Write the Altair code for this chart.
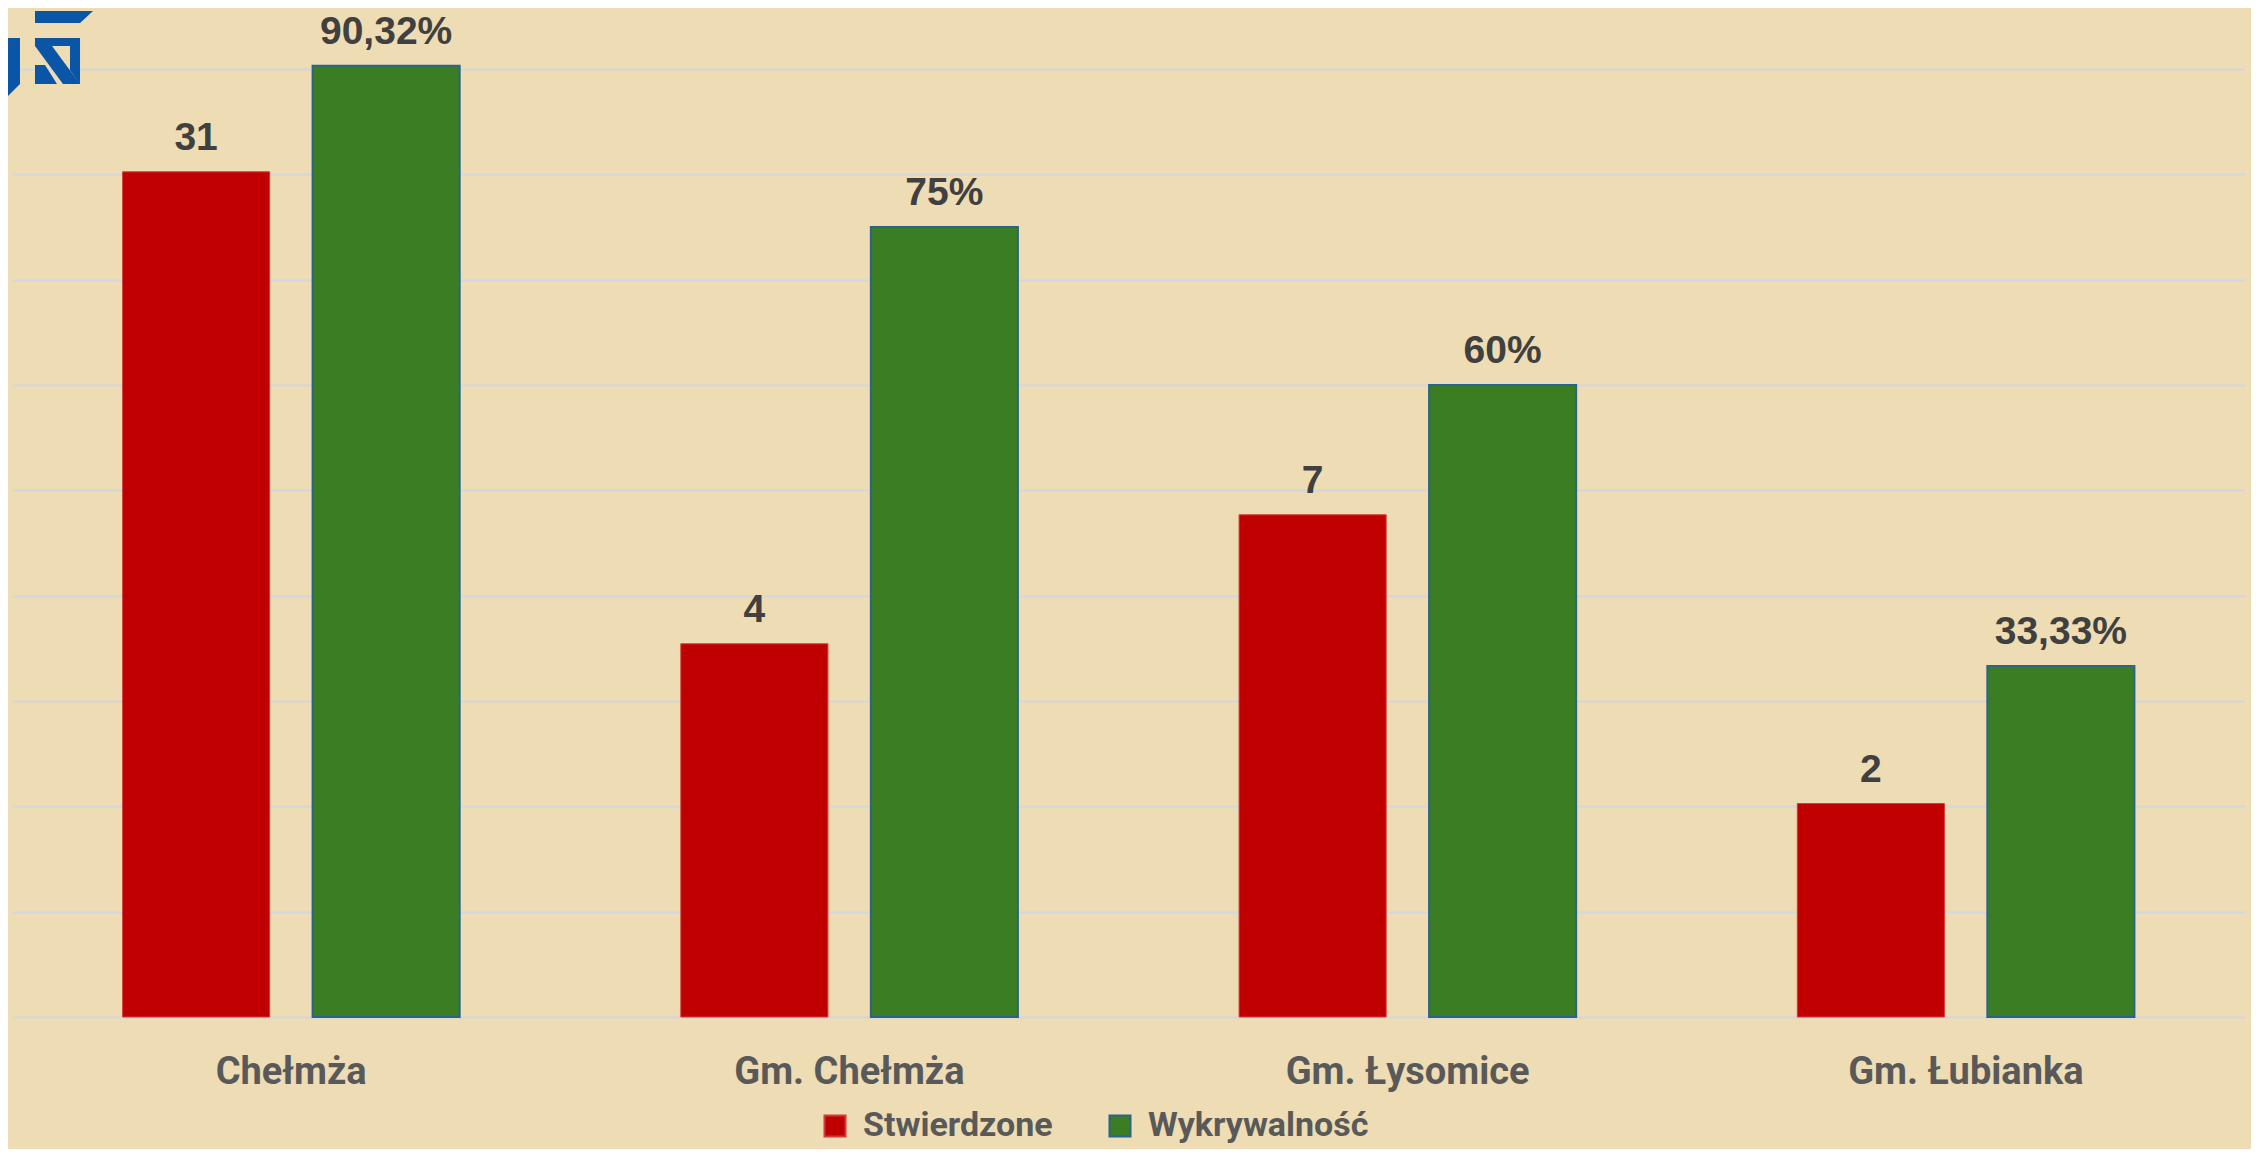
import altair as alt
import pandas as pd

# ---- data ----
categories = ["Chełmża", "Gm. Chełmża", "Gm. Łysomice", "Gm. Łubianka"]
series = ["Stwierdzone", "Wykrywalność"]
stwierdzone = [31, 4, 7, 2]
wykrywalnosc = [90.32, 75, 60, 33.33]
stw_labels = ["31", "4", "7", "2"]
wyk_labels = ["90,32%", "75%", "60%", "33,33%"]
grid_values = [0, 10, 20, 30, 40, 50, 60, 70, 80, 90]

red_df = pd.DataFrame({"kategoria": categories, "seria": series[0],
                       "wartosc": stwierdzone, "etykieta": stw_labels})
green_df = pd.DataFrame({"kategoria": categories, "seria": series[1],
                         "wartosc": wykrywalnosc, "etykieta": wyk_labels})

W, H = 2233, 948
RED, GREEN = "#C00000", "#3A7D22"
TXT = "#404040"
RED_MIN, RED_MAX = 0.7922, 48.43

x_enc = alt.X("kategoria:N", sort=categories,
              scale=alt.Scale(paddingInner=0, paddingOuter=0),
              axis=alt.Axis(title=None, labelAngle=0, labelFontSize=38,
                            labelFont="Roboto", labelFontWeight="bold",
                            labelColor="#595959", labelPadding=36, labelLimit=1000,
                            ticks=False, domain=False, grid=False))
xoff = alt.XOffset("seria:N", scale=alt.Scale(domain=series, paddingInner=0.226,
                                              paddingOuter=0.582))
color_enc = alt.Color("seria:N", scale=alt.Scale(domain=series, range=[RED, GREEN]),
                      legend=alt.Legend(title=None, orient="none", legendX=806, legendY=1040,
                                        direction="horizontal", symbolType="square",
                                        symbolSize=441, symbolStrokeWidth=2,
                                        labelFont="Roboto", labelFontWeight="bold",
                                        labelFontSize=34, labelColor="#595959",
                                        labelLimit=1000,
                                        labelOffset=11, columnPadding=50, padding=0))
stroke_enc = alt.Stroke("seria:N", scale=alt.Scale(domain=series, range=["#D23A3A", "#2A6589"]))

red_scale = alt.Scale(type="log", domain=[RED_MIN, RED_MAX], nice=False, zero=False)
green_scale = alt.Scale(domain=[0, 90], nice=False, zero=True)

red_bar = alt.Chart(red_df).mark_bar(strokeWidth=1).encode(
    x=x_enc, xOffset=xoff,
    y=alt.Y("wartosc:Q", scale=red_scale, axis=None),
    y2=alt.datum(RED_MIN),
    color=color_enc, stroke=stroke_enc)

green_bar = alt.Chart(green_df).mark_bar(strokeWidth=2, clip=False).encode(
    x=x_enc, xOffset=xoff,
    y=alt.Y("wartosc:Q", scale=green_scale,
            axis=alt.Axis(title=None, values=grid_values, labels=False, ticks=False,
                          domain=False, grid=True, gridColor="#D3D6DC", gridWidth=2)),
    color=color_enc, stroke=stroke_enc)

text_props = dict(dy=-22, baseline="alphabetic", align="center", fontSize=39,
                  fontWeight="bold", font="Liberation Sans", color=TXT)

red_text = alt.Chart(red_df).mark_text(**text_props).encode(
    x=x_enc, xOffset=xoff,
    y=alt.Y("wartosc:Q", scale=red_scale, axis=None),
    text="etykieta:N")

green_text = alt.Chart(green_df).mark_text(**text_props).encode(
    x=x_enc, xOffset=xoff,
    y=alt.Y("wartosc:Q", scale=green_scale, axis=None),
    text="etykieta:N")

# ---- decorative logo (top-left) ----
polys = [
    [(35, 1), (93, 1), (80, 13), (35, 13)],
    [(7, 28), (20, 28), (20, 74), (7, 87)],
    [(35, 28), (80, 28), (80, 36), (35, 36)],
    [(35, 36), (52, 36), (80, 74), (63, 74)],
    [(70, 36), (80, 36), (80, 74), (70, 60)],
    [(35, 55), (45, 55), (57, 74), (35, 74)],
]
cx, cy, half = 50.0, 44.0, 43.0
path = ""
for poly in polys:
    pts = [((px - cx) / half, (py - cy) / half) for px, py in poly]
    path += "M" + " L".join(f"{a:.3f},{b:.3f}" for a, b in pts) + " Z "
logo = alt.Chart(pd.DataFrame({"k": [0]})).mark_point(
    shape=path.strip(), filled=True, color="#0B55A6", opacity=1, size=(2 * half) ** 2
).encode(x=alt.value(38), y=alt.value(-15))

chart = alt.layer(green_bar, red_bar, green_text, red_text, logo).resolve_scale(
    y="independent"
).properties(
    width=W, height=H, autosize="none",
    padding={"left": 4, "top": 61, "right": 6, "bottom": 132},
    background="#EDDCB4",
).configure_view(stroke=None)

chart.save("out.html", embed_options={"renderer": "svg", "actions": False})
